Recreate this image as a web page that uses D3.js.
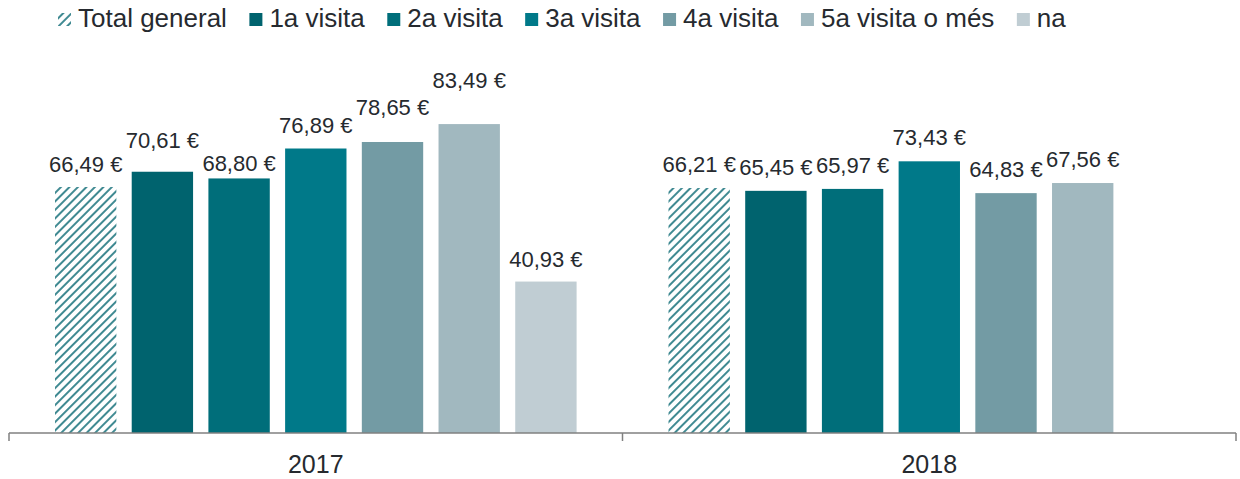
<!DOCTYPE html>
<html>
<head>
<meta charset="utf-8">
<script src="https://cdn.jsdelivr.net/npm/d3@7"></script>
<style>
  body { margin: 0; background: #fff; }
  svg text { font-family: "Liberation Sans", Arial, sans-serif; fill: #262a2f; }
</style>
</head>
<body>
<svg id="chart" width="1240" height="479"></svg>
<script>
// Data
const years = ["2017", "2018"];
const series = ["Total general", "1a visita", "2a visita", "3a visita", "4a visita", "5a visita o més", "na"];
const values2017 = [66.49, 70.61, 68.80, 76.89, 78.65, 83.49, 40.93];
const values2018 = [66.21, 65.45, 65.97, 73.43, 64.83, 67.56, null];

// Colours per series (first one is hatched)
const colors = ["url(#hatch)", "#00636e", "#006e7a", "#007989", "#739ba4", "#a1b8bf", "#c0cdd3"];

// label nudges as placed in the original (px, relative to default spot)
const labelNudge2017 = [1, -8, 9, 0, -11, -20, 1];
const labelNudge2018 = [0, 0, 0, 0, 0, 0, 0];

const rows = [
  { year: "2017", values: values2017, nudge: labelNudge2017 },
  { year: "2018", values: values2018, nudge: labelNudge2018 }
];

const svg = d3.select("#chart");
const fmt = v => d3.format(".2f")(v).replace(".", ",") + " €";

// hatch pattern for "Total general"
const defs = svg.append("defs");
const pat = defs.append("pattern")
    .attr("id", "hatch")
    .attr("patternUnits", "userSpaceOnUse")
    .attr("width", 6)
    .attr("height", 6)
    .attr("patternTransform", "rotate(45)");
pat.append("rect").attr("width", 6).attr("height", 6).attr("fill", "#fff");
pat.append("line")
    .attr("x1", 1).attr("y1", 0).attr("x2", 1).attr("y2", 6)
    .attr("stroke", "#00636e")
    .attr("stroke-width", 1.5);

// Scales
const baseY = 433;
const x0 = d3.scaleBand().domain(years).range([9, 1236]).padding(0);
const x1 = d3.scaleBand().domain(series).range([46, 567.6]).paddingInner(0.2).paddingOuter(0);
const y = d3.scaleLinear().domain([0, 90]).range([baseY, baseY - 333]);

// Bars
const groups = svg.selectAll("g.year")
    .data(rows)
    .enter()
    .append("g")
    .attr("class", "year")
    .attr("transform", d => `translate(${x0(d.year)},0)`);

groups.selectAll("rect")
    .data(d => d.values.map((v, i) => ({ s: series[i], v, i })).filter(e => e.v != null))
    .enter()
    .append("rect")
    .attr("x", d => x1(d.s))
    .attr("y", d => y(d.v))
    .attr("width", x1.bandwidth())
    .attr("height", d => baseY - y(d.v))
    .attr("fill", d => colors[d.i]);

// Value labels
groups.selectAll("text.val")
    .data(d => d.values.map((v, i) => ({ s: series[i], v, i, n: d.nudge[i] })).filter(e => e.v != null))
    .enter()
    .append("text")
    .attr("class", "val")
    .attr("x", d => x1(d.s) + x1.bandwidth() / 2)
    .attr("y", d => y(d.v) - 16 + d.n)
    .attr("text-anchor", "middle")
    .style("font-size", "22px")
    .text(d => fmt(d.v));

// X axis: line, boundary ticks, category labels
const axis = svg.append("g").attr("transform", `translate(0,${baseY})`);
axis.call(d3.axisBottom(x0).tickSize(0).tickPadding(22))
    .call(g => g.select(".domain").remove())
    .call(g => g.selectAll("text").style("font-size", "25px").attr("dy", "0.71em").attr("fill", "#262a2f"));
axis.append("line")
    .attr("x1", 9).attr("x2", 1236)
    .attr("stroke", "#808080").attr("stroke-width", 1.5);
axis.selectAll("line.tick-b")
    .data([x0(years[0]), x0(years[1]), x0(years[1]) + x0.bandwidth()])
    .enter()
    .append("line")
    .attr("class", "tick-b")
    .attr("x1", d => d).attr("x2", d => d)
    .attr("y1", 0).attr("y2", 8)
    .attr("stroke", "#808080").attr("stroke-width", 1.5);

// Legend
const legend = svg.append("g").attr("transform", "translate(58,0)");
let lx = 0;
series.forEach((s, i) => {
    legend.append("rect")
        .attr("x", lx).attr("y", 13)
        .attr("width", 13).attr("height", 13)
        .attr("fill", colors[i]);
    const t = legend.append("text")
        .attr("x", lx + 20).attr("y", 27)
        .style("font-size", "26px")
        .text(s);
    lx += 20 + t.node().getComputedTextLength() + 22.5;
});
</script>
</body>
</html>
